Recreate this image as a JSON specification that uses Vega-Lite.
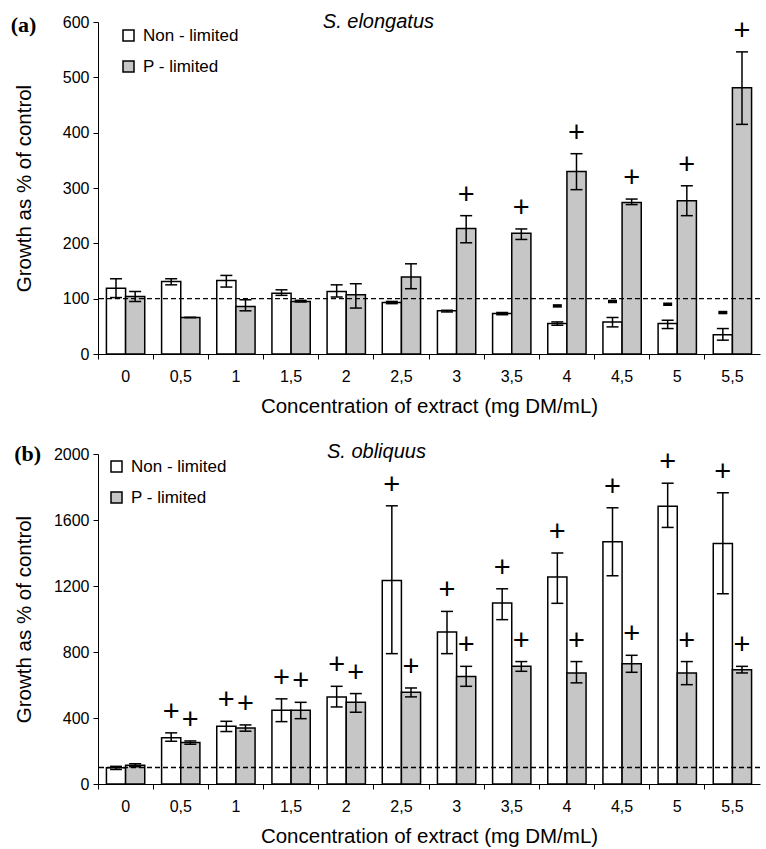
{
  "$schema": "https://vega.github.io/schema/vega-lite/v6.json",
  "padding": {"top": 12, "left": 10, "right": 5, "bottom": 5},
  "spacing": 25,
  "config": {
    "view": {"stroke": null},
    "font": "Liberation Sans",
    "axis": {"grid": false, "domainColor": "black", "tickColor": "black", "labelColor": "black", "titleColor": "black", "labelFont": "Liberation Sans", "titleFont": "Liberation Sans", "labelFontSize": 16, "titleFontSize": 20.5, "titleFontWeight": "normal", "domainWidth": 1, "tickWidth": 1, "tickSize": 5},
    "legend": {"title": null, "orient": "none", "symbolType": "square", "symbolSize": 121, "symbolStrokeColor": "black", "symbolStrokeWidth": 1.5, "labelFontSize": 17, "labelFont": "Liberation Sans", "labelColor": "black", "rowPadding": 13, "labelOffset": 6}
  },
  "resolve": {"scale": {"fill": "independent"}, "legend": {"fill": "independent"}},
  "datasets": {
    "a": [
      {"conc": "0", "cond": "Non - limited", "mean": 119, "lo": 102, "hi": 136, "sig": ""},
      {"conc": "0", "cond": "P - limited", "mean": 104, "lo": 95, "hi": 113, "sig": ""},
      {"conc": "0,5", "cond": "Non - limited", "mean": 131, "lo": 125, "hi": 136, "sig": ""},
      {"conc": "0,5", "cond": "P - limited", "mean": 66, "lo": 66, "hi": 66, "sig": ""},
      {"conc": "1", "cond": "Non - limited", "mean": 133, "lo": 121, "hi": 142, "sig": ""},
      {"conc": "1", "cond": "P - limited", "mean": 86, "lo": 78, "hi": 98, "sig": ""},
      {"conc": "1,5", "cond": "Non - limited", "mean": 110, "lo": 106, "hi": 116, "sig": ""},
      {"conc": "1,5", "cond": "P - limited", "mean": 95, "lo": 94, "hi": 97, "sig": ""},
      {"conc": "2", "cond": "Non - limited", "mean": 113, "lo": 103, "hi": 125, "sig": ""},
      {"conc": "2", "cond": "P - limited", "mean": 107, "lo": 83, "hi": 127, "sig": ""},
      {"conc": "2,5", "cond": "Non - limited", "mean": 93, "lo": 91, "hi": 95, "sig": ""},
      {"conc": "2,5", "cond": "P - limited", "mean": 139, "lo": 118, "hi": 163, "sig": ""},
      {"conc": "3", "cond": "Non - limited", "mean": 78, "lo": 76, "hi": 79, "sig": ""},
      {"conc": "3", "cond": "P - limited", "mean": 227, "lo": 201, "hi": 250, "sig": "+"},
      {"conc": "3,5", "cond": "Non - limited", "mean": 73, "lo": 71, "hi": 75, "sig": ""},
      {"conc": "3,5", "cond": "P - limited", "mean": 218, "lo": 207, "hi": 226, "sig": "+"},
      {"conc": "4", "cond": "Non - limited", "mean": 55, "lo": 52, "hi": 58, "sig": "-"},
      {"conc": "4", "cond": "P - limited", "mean": 330, "lo": 297, "hi": 362, "sig": "+"},
      {"conc": "4,5", "cond": "Non - limited", "mean": 58, "lo": 49, "hi": 66, "sig": "-"},
      {"conc": "4,5", "cond": "P - limited", "mean": 274, "lo": 270, "hi": 280, "sig": "+"},
      {"conc": "5", "cond": "Non - limited", "mean": 55, "lo": 46, "hi": 61, "sig": "-"},
      {"conc": "5", "cond": "P - limited", "mean": 277, "lo": 250, "hi": 304, "sig": "+"},
      {"conc": "5,5", "cond": "Non - limited", "mean": 35, "lo": 25, "hi": 46, "sig": "-"},
      {"conc": "5,5", "cond": "P - limited", "mean": 481, "lo": 415, "hi": 546, "sig": "+"}
    ],
    "b": [
      {"conc": "0", "cond": "Non - limited", "mean": 98, "lo": 88, "hi": 107, "sig": ""},
      {"conc": "0", "cond": "P - limited", "mean": 114, "lo": 104, "hi": 123, "sig": ""},
      {"conc": "0,5", "cond": "Non - limited", "mean": 280, "lo": 259, "hi": 310, "sig": "+"},
      {"conc": "0,5", "cond": "P - limited", "mean": 251, "lo": 241, "hi": 261, "sig": "+"},
      {"conc": "1", "cond": "Non - limited", "mean": 350, "lo": 318, "hi": 380, "sig": "+"},
      {"conc": "1", "cond": "P - limited", "mean": 340, "lo": 320, "hi": 358, "sig": "+"},
      {"conc": "1,5", "cond": "Non - limited", "mean": 447, "lo": 378, "hi": 516, "sig": "+"},
      {"conc": "1,5", "cond": "P - limited", "mean": 447, "lo": 396, "hi": 495, "sig": "+"},
      {"conc": "2", "cond": "Non - limited", "mean": 528, "lo": 467, "hi": 592, "sig": "+"},
      {"conc": "2", "cond": "P - limited", "mean": 495, "lo": 435, "hi": 548, "sig": "+"},
      {"conc": "2,5", "cond": "Non - limited", "mean": 1234, "lo": 790, "hi": 1686, "sig": "+"},
      {"conc": "2,5", "cond": "P - limited", "mean": 556, "lo": 528, "hi": 582, "sig": "+"},
      {"conc": "3", "cond": "Non - limited", "mean": 921, "lo": 790, "hi": 1046, "sig": "+"},
      {"conc": "3", "cond": "P - limited", "mean": 652, "lo": 592, "hi": 713, "sig": "+"},
      {"conc": "3,5", "cond": "Non - limited", "mean": 1097, "lo": 996, "hi": 1183, "sig": "+"},
      {"conc": "3,5", "cond": "P - limited", "mean": 713, "lo": 683, "hi": 742, "sig": "+"},
      {"conc": "4", "cond": "Non - limited", "mean": 1254, "lo": 1095, "hi": 1400, "sig": "+"},
      {"conc": "4", "cond": "P - limited", "mean": 673, "lo": 613, "hi": 742, "sig": "+"},
      {"conc": "4,5", "cond": "Non - limited", "mean": 1468, "lo": 1262, "hi": 1674, "sig": "+"},
      {"conc": "4,5", "cond": "P - limited", "mean": 729, "lo": 677, "hi": 780, "sig": "+"},
      {"conc": "5", "cond": "Non - limited", "mean": 1684, "lo": 1555, "hi": 1823, "sig": "+"},
      {"conc": "5", "cond": "P - limited", "mean": 673, "lo": 602, "hi": 742, "sig": "+"},
      {"conc": "5,5", "cond": "Non - limited", "mean": 1458, "lo": 1153, "hi": 1765, "sig": "+"},
      {"conc": "5,5", "cond": "P - limited", "mean": 693, "lo": 673, "hi": 713, "sig": "+"}
    ]
  },
  "vconcat": [
    {
      "width": 662,
      "height": 332,
      "data": {"name": "a"},
      "layer": [
        {
          "mark": {"type": "bar", "stroke": "black", "strokeWidth": 1.5, "opacity": 1},
          "encoding": {
            "x": {"field": "conc", "type": "nominal", "sort": null, "scale": {"paddingInner": 0, "paddingOuter": 0},
                  "axis": {"title": "Concentration of extract (mg DM/mL)", "labelAngle": 0, "bandPosition": 0, "labelPadding": 9, "titlePadding": 12}},
            "xOffset": {"field": "cond", "type": "nominal", "scale": {"paddingInner": 0, "paddingOuter": 0.44}},
            "y": {"field": "mean", "type": "quantitative", "scale": {"domain": [0, 600]},
                  "axis": {"title": "Growth as % of control", "values": [0, 100, 200, 300, 400, 500, 600], "format": "d", "labelPadding": 4, "minExtent": 45, "maxExtent": 45, "titlePadding": 19}},
            "fill": {"field": "cond", "type": "nominal", "scale": {"domain": ["Non - limited", "P - limited"], "range": ["#ffffff", "#c6c6c6"]},
                     "legend": {"legendX": 22, "legendY": 5}}
          }
        },
        {
          "mark": {"type": "rule", "color": "black", "strokeWidth": 1.5, "opacity": 1},
          "encoding": {
            "x": {"field": "conc", "type": "nominal", "sort": null},
            "xOffset": {"field": "cond", "type": "nominal"},
            "y": {"field": "lo", "type": "quantitative"},
            "y2": {"field": "hi"}
          }
        },
        {
          "mark": {"type": "tick", "color": "black", "size": 12, "thickness": 1.5, "opacity": 1},
          "encoding": {
            "x": {"field": "conc", "type": "nominal", "sort": null},
            "xOffset": {"field": "cond", "type": "nominal"},
            "y": {"field": "lo", "type": "quantitative"}
          }
        },
        {
          "mark": {"type": "tick", "color": "black", "size": 12, "thickness": 1.5, "opacity": 1},
          "encoding": {
            "x": {"field": "conc", "type": "nominal", "sort": null},
            "xOffset": {"field": "cond", "type": "nominal"},
            "y": {"field": "hi", "type": "quantitative"}
          }
        },
        {
          "data": {"values": [{}]},
          "mark": {"type": "rule", "color": "black", "strokeWidth": 1.3, "strokeDash": [5, 3], "opacity": 1},
          "encoding": {"y": {"datum": 100}}
        },
        {
          "transform": [{"filter": "datum.sig == '+'"}],
          "mark": {"type": "text", "text": "+", "fontSize": 29, "font": "Liberation Sans", "color": "black", "baseline": "middle", "dy": -21},
          "encoding": {
            "x": {"field": "conc", "type": "nominal", "sort": null},
            "xOffset": {"field": "cond", "type": "nominal"},
            "y": {"field": "hi", "type": "quantitative"}
          }
        },
        {
          "transform": [{"filter": "datum.sig == '-'"}],
          "mark": {"type": "tick", "color": "black", "size": 9, "thickness": 3.5, "yOffset": -16, "opacity": 1},
          "encoding": {
            "x": {"field": "conc", "type": "nominal", "sort": null},
            "xOffset": {"field": "cond", "type": "nominal"},
            "y": {"field": "hi", "type": "quantitative"}
          }
        },
        {
          "data": {"values": [{}]},
          "mark": {"type": "text", "text": "(a)", "font": "Liberation Serif", "fontWeight": "bold", "fontSize": 22, "color": "black", "baseline": "middle", "dx": -102, "dy": 3},
          "encoding": {"x": {"datum": "0", "type": "nominal"}, "y": {"datum": 600, "type": "quantitative"}}
        },
        {
          "data": {"values": [{}]},
          "mark": {"type": "text", "text": "S. elongatus", "font": "Liberation Sans", "fontStyle": "italic", "fontSize": 20, "color": "black", "baseline": "middle", "dx": -23, "dy": 0},
          "encoding": {"x": {"datum": "2,5", "type": "nominal"}, "y": {"datum": 600, "type": "quantitative"}}
        }
      ]
    },
    {
      "width": 662,
      "height": 330,
      "data": {"name": "b"},
      "layer": [
        {
          "mark": {"type": "bar", "stroke": "black", "strokeWidth": 1.5, "opacity": 1},
          "encoding": {
            "x": {"field": "conc", "type": "nominal", "sort": null, "scale": {"paddingInner": 0, "paddingOuter": 0},
                  "axis": {"title": "Concentration of extract (mg DM/mL)", "labelAngle": 0, "bandPosition": 0, "labelPadding": 9, "titlePadding": 12}},
            "xOffset": {"field": "cond", "type": "nominal", "scale": {"paddingInner": 0, "paddingOuter": 0.44}},
            "y": {"field": "mean", "type": "quantitative", "scale": {"domain": [0, 2000]},
                  "axis": {"title": "Growth as % of control", "values": [0, 400, 800, 1200, 1600, 2000], "format": "d", "labelPadding": 4, "minExtent": 45, "maxExtent": 45, "titlePadding": 19}},
            "fill": {"field": "cond", "type": "nominal", "scale": {"domain": ["Non - limited", "P - limited"], "range": ["#ffffff", "#c6c6c6"]},
                     "legend": {"legendX": 10, "legendY": 4}}
          }
        },
        {
          "mark": {"type": "rule", "color": "black", "strokeWidth": 1.5, "opacity": 1},
          "encoding": {
            "x": {"field": "conc", "type": "nominal", "sort": null},
            "xOffset": {"field": "cond", "type": "nominal"},
            "y": {"field": "lo", "type": "quantitative"},
            "y2": {"field": "hi"}
          }
        },
        {
          "mark": {"type": "tick", "color": "black", "size": 12, "thickness": 1.5, "opacity": 1},
          "encoding": {
            "x": {"field": "conc", "type": "nominal", "sort": null},
            "xOffset": {"field": "cond", "type": "nominal"},
            "y": {"field": "lo", "type": "quantitative"}
          }
        },
        {
          "mark": {"type": "tick", "color": "black", "size": 12, "thickness": 1.5, "opacity": 1},
          "encoding": {
            "x": {"field": "conc", "type": "nominal", "sort": null},
            "xOffset": {"field": "cond", "type": "nominal"},
            "y": {"field": "hi", "type": "quantitative"}
          }
        },
        {
          "data": {"values": [{}]},
          "mark": {"type": "rule", "color": "black", "strokeWidth": 1.3, "strokeDash": [5, 3], "opacity": 1},
          "encoding": {"y": {"datum": 100}}
        },
        {
          "transform": [{"filter": "datum.sig == '+'"}],
          "mark": {"type": "text", "text": "+", "fontSize": 29, "font": "Liberation Sans", "color": "black", "baseline": "middle", "dy": -21},
          "encoding": {
            "x": {"field": "conc", "type": "nominal", "sort": null},
            "xOffset": {"field": "cond", "type": "nominal"},
            "y": {"field": "hi", "type": "quantitative"}
          }
        },
        {
          "data": {"values": [{}]},
          "mark": {"type": "text", "text": "(b)", "font": "Liberation Serif", "fontWeight": "bold", "fontSize": 22, "color": "black", "baseline": "middle", "dx": -98, "dy": 0},
          "encoding": {"x": {"datum": "0", "type": "nominal"}, "y": {"datum": 2000, "type": "quantitative"}}
        },
        {
          "data": {"values": [{}]},
          "mark": {"type": "text", "text": "S. obliquus", "font": "Liberation Sans", "fontStyle": "italic", "fontSize": 20, "color": "black", "baseline": "middle", "dx": -25, "dy": -2},
          "encoding": {"x": {"datum": "2,5", "type": "nominal"}, "y": {"datum": 2000, "type": "quantitative"}}
        }
      ]
    }
  ]
}
